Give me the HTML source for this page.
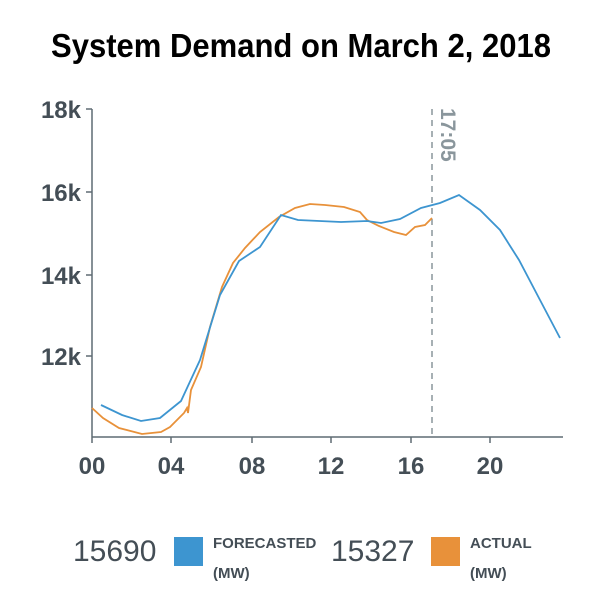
<!DOCTYPE html>
<html><head><meta charset="utf-8"><style>
html,body{margin:0;padding:0;background:#fff;}
svg{display:block;font-family:"Liberation Sans",sans-serif;}
</style></head><body>
<svg width="600" height="600" viewBox="0 0 600 600">
<text x="301" y="57" text-anchor="middle" font-size="33" font-weight="bold" fill="#000" textLength="500" lengthAdjust="spacingAndGlyphs">System Demand on March 2, 2018</text>
<g stroke="#5f6b73" stroke-width="1.5" fill="none">
<line x1="92" y1="109" x2="92" y2="437"/>
<line x1="92" y1="437" x2="563" y2="437"/>
<line x1="86" y1="109" x2="92" y2="109"/>
<line x1="86" y1="192" x2="92" y2="192"/>
<line x1="86" y1="275" x2="92" y2="275"/>
<line x1="86" y1="356" x2="92" y2="356"/>
<line x1="92" y1="437" x2="92" y2="443"/>
<line x1="171" y1="437" x2="171" y2="443"/>
<line x1="252" y1="437" x2="252" y2="443"/>
<line x1="331" y1="437" x2="331" y2="443"/>
<line x1="411" y1="437" x2="411" y2="443"/>
<line x1="490" y1="437" x2="490" y2="443"/>
</g>
<g font-size="24" font-weight="bold" fill="#444e56">
<text x="81" y="118" text-anchor="end">18k</text>
<text x="81" y="201" text-anchor="end">16k</text>
<text x="81" y="284" text-anchor="end">14k</text>
<text x="81" y="365" text-anchor="end">12k</text>
<g text-anchor="middle">
<text x="92" y="474">00</text><text x="171" y="474">04</text><text x="252" y="474">08</text>
<text x="331" y="474">12</text><text x="411" y="474">16</text><text x="490" y="474">20</text>
</g></g>
<line x1="432" y1="109" x2="432" y2="437" stroke="#8a969c" stroke-width="1.5" stroke-dasharray="6,5"/>
<text transform="translate(441,108) rotate(90)" font-size="21" font-weight="bold" fill="#8a969c">17:05</text>
<polyline fill="none" stroke="#e8913a" stroke-width="1.8" points="92,408 103,418 119,428 142,434 161,432 170,427 184,413 187,408 188,413 191,390 201,367 210,327 222,287 233,263 245,248 260,232 279,217 295,208 310,204 325,205 344,207 360,212 367,220 379,226 394,232 406,235 415,227 425,225 432,218"/>
<polyline fill="none" stroke="#3d95d0" stroke-width="1.8" points="101,405 122,415 141,421 160,418 181,401 200,360 220,295 239,261 260,247 281,215 298,220 341,222 367,221 381,223 400,219 421,208 440,203 459,195 480,210 500,230 519,260 540,300 560,338"/>
<g fill="#444e56">
<text x="73" y="561" font-size="30">15690</text>
<text x="331" y="561" font-size="30">15327</text>
<g font-size="15" font-weight="bold">
<text x="213" y="548">FORECASTED</text><text x="213" y="578">(MW)</text>
<text x="470" y="548">ACTUAL</text><text x="470" y="578">(MW)</text>
</g></g>
<rect x="174" y="537" width="29" height="29" fill="#3d95d0"/>
<rect x="431" y="537" width="29" height="29" fill="#e8913a"/>
</svg>
</body></html>
